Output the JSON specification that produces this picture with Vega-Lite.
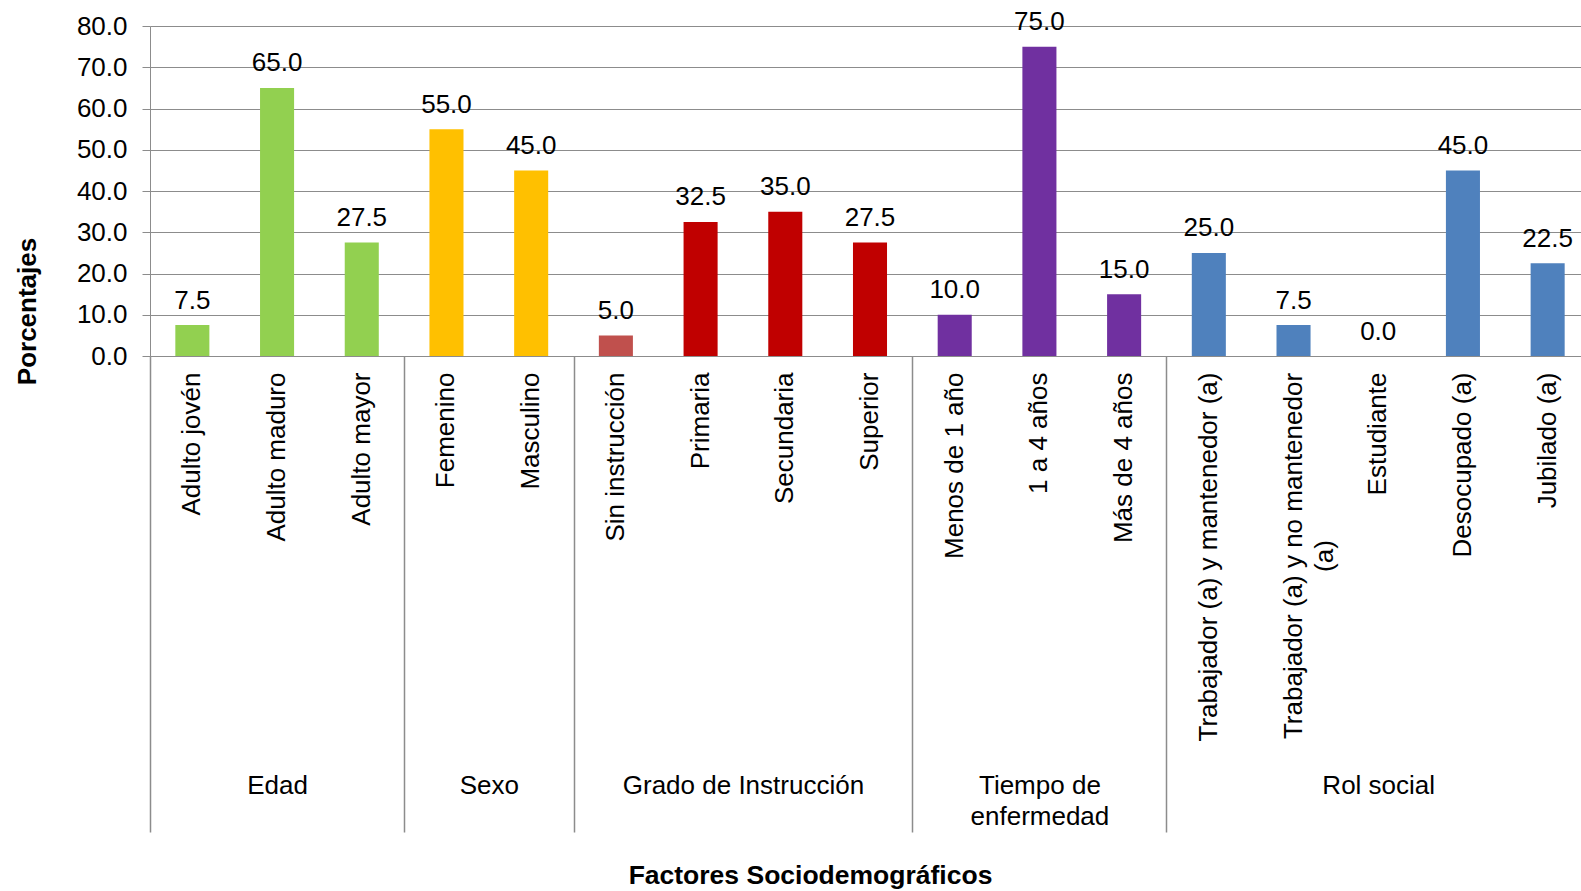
{
  "$schema": "https://vega.github.io/schema/vega-lite/v6.json",
  "autosize": "none",
  "width": 1440,
  "height": 330,
  "padding": {"left": 150, "top": 26, "right": -9, "bottom": 535},
  "background": "white",
  "config": {
    "view": {"stroke": null},
    "font": "Liberation Sans",
    "axis": {"labelFont": "Liberation Sans", "titleFont": "Liberation Sans", "labelColor": "#000000", "titleColor": "#000000"}
  },
  "data": {
    "values": [
      {"Factor": "Adulto jovén", "Grupo": "Edad", "Porcentaje": 7.5},
      {"Factor": "Adulto maduro", "Grupo": "Edad", "Porcentaje": 65.0},
      {"Factor": "Adulto mayor", "Grupo": "Edad", "Porcentaje": 27.5},
      {"Factor": "Femenino", "Grupo": "Sexo", "Porcentaje": 55.0},
      {"Factor": "Masculino", "Grupo": "Sexo", "Porcentaje": 45.0},
      {"Factor": "Sin instrucción", "Grupo": "Grado de Instrucción", "Porcentaje": 5.0},
      {"Factor": "Primaria", "Grupo": "Grado de Instrucción", "Porcentaje": 32.5},
      {"Factor": "Secundaria", "Grupo": "Grado de Instrucción", "Porcentaje": 35.0},
      {"Factor": "Superior", "Grupo": "Grado de Instrucción", "Porcentaje": 27.5},
      {"Factor": "Menos de 1 año", "Grupo": "Tiempo de enfermedad", "Porcentaje": 10.0},
      {"Factor": "1 a 4 años", "Grupo": "Tiempo de enfermedad", "Porcentaje": 75.0},
      {"Factor": "Más de 4 años", "Grupo": "Tiempo de enfermedad", "Porcentaje": 15.0},
      {"Factor": "Trabajador (a) y mantenedor (a)", "Grupo": "Rol social", "Porcentaje": 25.0},
      {"Factor": "Trabajador (a) y no mantenedor (a)", "Grupo": "Rol social", "Porcentaje": 7.5},
      {"Factor": "Estudiante", "Grupo": "Rol social", "Porcentaje": 0.0},
      {"Factor": "Desocupado (a)", "Grupo": "Rol social", "Porcentaje": 45.0},
      {"Factor": "Jubilado (a)", "Grupo": "Rol social", "Porcentaje": 22.5}
    ]
  },
  "encoding": {
    "y": {
      "field": "Porcentaje",
      "type": "quantitative",
      "scale": {"domain": [0, 80], "nice": false},
      "axis": {
        "values": [0, 10, 20, 30, 40, 50, 60, 70, 80],
        "format": ".1f",
        "labelFontSize": 26,
        "labelPadding": 15,
        "tickSize": 8,
        "tickColor": "#8c8c8c",
        "domainColor": "#8c8c8c",
        "grid": true,
        "gridColor": "#8c8c8c",
        "gridWidth": 1,
        "title": "Porcentajes",
        "titleFontSize": 26,
        "titleFontWeight": "bold",
        "titleAngle": 270,
        "titleX": -123,
        "titleY": 285,
        "titleAlign": "center",
        "titleBaseline": "middle"
      }
    }
  },
  "layer": [
    {
      "mark": {"type": "bar"},
      "encoding": {
        "x": {
          "field": "Factor",
          "type": "nominal",
          "sort": null,
          "scale": {"paddingInner": 0.598, "paddingOuter": 0.299},
          "axis": {
            "orient": "bottom",
            "title": null,
            "ticks": false,
            "domain": true,
            "domainColor": "#8c8c8c",
            "grid": false,
            "labelAngle": 270,
            "labelFontSize": 26,
            "labelPadding": {
              "condition": {"test": "datum.value == 'Trabajador (a) y no mantenedor (a)'", "value": 199.5},
              "value": 16
            },
            "labelAlign": {
              "condition": {"test": "datum.value == 'Trabajador (a) y no mantenedor (a)'", "value": "center"},
              "value": "right"
            },
            "labelBaseline": "middle",
            "labelLimit": 1000,
            "labelOverlap": false,
            "labelLineHeight": 31,
            "labelExpr": "datum.value == 'Trabajador (a) y no mantenedor (a)' ? ['Trabajador (a) y no mantenedor', '(a)'] : datum.value"
          }
        },
        "color": {
          "field": "Factor",
          "type": "nominal",
          "legend": null,
          "scale": {
            "domain": ["Adulto jovén", "Adulto maduro", "Adulto mayor", "Femenino", "Masculino", "Sin instrucción", "Primaria", "Secundaria", "Superior", "Menos de 1 año", "1 a 4 años", "Más de 4 años", "Trabajador (a) y mantenedor (a)", "Trabajador (a) y no mantenedor (a)", "Estudiante", "Desocupado (a)", "Jubilado (a)"],
            "range": ["#92D050", "#92D050", "#92D050", "#FFC000", "#FFC000", "#C0504D", "#C00000", "#C00000", "#C00000", "#7030A0", "#7030A0", "#7030A0", "#4F81BD", "#4F81BD", "#4F81BD", "#4F81BD", "#4F81BD"]
          }
        }
      }
    },
    {
      "mark": {"type": "text", "fontSize": 26, "font": "Liberation Sans", "color": "#000000", "baseline": "alphabetic", "dy": -16.5},
      "encoding": {
        "x": {
          "field": "Factor",
          "type": "nominal",
          "sort": null,
          "axis": {
            "orient": "bottom",
            "values": ["Adulto jovén", "Femenino", "Sin instrucción", "Menos de 1 año", "Trabajador (a) y mantenedor (a)"],
            "domain": false,
            "grid": false,
            "ticks": true,
            "tickSize": 476,
            "tickColor": "#8c8c8c",
            "tickWidth": 1.5,
            "bandPosition": 0.5,
            "tickOffset": -42.35,
            "labelAngle": 0,
            "labelAlign": "center",
            "labelBaseline": "top",
            "labelFontSize": 26,
            "labelLineHeight": 31,
            "labelPadding": -60,
            "labelLimit": 1000,
            "labelOverlap": false,
            "labelFlush": false,
            "labelBound": false,
            "labelOffset": {
              "condition": [
                {"test": "datum.value == 'Adulto jovén'", "value": 127.05},
                {"test": "datum.value == 'Femenino'", "value": 84.7},
                {"test": "datum.value == 'Sin instrucción'", "value": 169.4},
                {"test": "datum.value == 'Menos de 1 año'", "value": 127.05}
              ],
              "value": 211.75
            },
            "labelExpr": "datum.value == 'Adulto jovén' ? 'Edad' : datum.value == 'Femenino' ? 'Sexo' : datum.value == 'Sin instrucción' ? 'Grado de Instrucción' : datum.value == 'Menos de 1 año' ? ['Tiempo de', 'enfermedad'] : 'Rol social'",
            "title": "Factores Sociodemográficos",
            "titleFontSize": 26.5,
            "titleFontWeight": "bold",
            "titleX": 660,
            "titleY": 506,
            "titleAlign": "center",
            "titleBaseline": "top"
          }
        },
        "text": {"field": "Porcentaje", "type": "quantitative", "format": ".1f"}
      }
    }
  ],
  "resolve": {"axis": {"x": "independent"}}
}
